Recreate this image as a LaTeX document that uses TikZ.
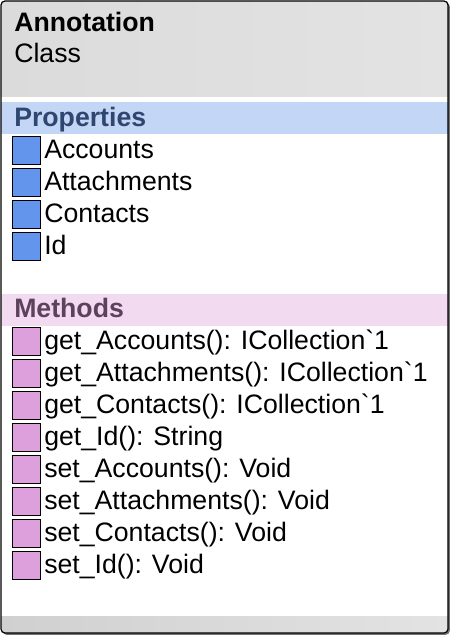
\documentclass[tikz,border=0pt]{standalone}
\usepackage{fontspec}
\setmainfont{Liberation Sans}
\usetikzlibrary{positioning}
\definecolor{headgray}{HTML}{DBDBDB}
\definecolor{headgrayb}{HTML}{E3E3E3}
\definecolor{propband}{HTML}{C4D6F6}
\definecolor{proptext}{HTML}{2F4670}
\definecolor{methband}{HTML}{F2DBF0}
\definecolor{methtext}{HTML}{5C425C}
\definecolor{propfill}{HTML}{6495ED}
\definecolor{methfill}{HTML}{DDA0DD}
\tikzstyle{propicon} = [rectangle, draw=black, line width=0.75pt, fill=propfill,
    minimum width=21.5pt, minimum height=21pt, inner sep=0pt]
\tikzstyle{methicon} = [rectangle, draw=black, line width=0.75pt, fill=methfill,
    minimum width=21.5pt, minimum height=21pt, inner sep=0pt]
\tikzstyle{member} = [anchor=west, inner sep=0pt, xshift=2pt,
    text height=14.3pt, text depth=2.3pt, font=\fontsize{20}{24}\selectfont]
\tikzstyle{title} = [anchor=base west, inner sep=0pt, font=\fontsize{20}{24}\selectfont\bfseries]
\tikzstyle{subtitle} = [anchor=base west, inner sep=0pt, font=\fontsize{20}{24}\selectfont]
\newcommand{\gen}{\textasciigrave 1}

\begin{document}
\begin{tikzpicture}[x=0.75pt, y=-0.75pt, node distance = 24pt]
    \useasboundingbox (0,0) rectangle (455,640);
    % Box, shadow and bands
    \fill[black!55, rounded corners=3pt] (2.5,2.5) rectangle (449.8,634.8);
    \begin{scope}
      \clip[rounded corners=3pt] (1,1) rectangle (448,633);
      \fill[white] (1,1) rectangle (448,633);
      \shade[left color=headgray, right color=headgrayb] (1,1) rectangle (448,96);
      \fill[propband] (1,102) rectangle (448,134);
      \fill[methband] (1,294) rectangle (448,326);
      \shade[left color=headgray!95!black, right color=headgrayb] (1,616) rectangle (448,633);
    \end{scope}
    \draw[rounded corners=3pt, line width=0.9pt] (1,1) rectangle (448,633);
    % Header
    \node [title] (name) at (14,31) {Annotation};
    \node [subtitle] (kind) at (14,62) {Class};
    \node [title, text=proptext] (props) at (14,126) {Properties};
    \node [title, text=methtext] (meths) at (14,317.5) {Methods};
    % Place properties
    \node [propicon] (p1) at (26.5,150) {};
    \node [propicon, below of=p1] (p2) {};
    \node [propicon, below of=p2] (p3) {};
    \node [propicon, below of=p3] (p4) {};
    \node [member] (pt1) at (p1.east) {Accounts};
    \node [member] (pt2) at (p2.east) {Attachments};
    \node [member] (pt3) at (p3.east) {Contacts};
    \node [member] (pt4) at (p4.east) {Id};
    % Place methods
    \node [methicon] (m1) at (26.5,341.5) {};
    \node [methicon, below of=m1] (m2) {};
    \node [methicon, below of=m2] (m3) {};
    \node [methicon, below of=m3] (m4) {};
    \node [methicon, below of=m4] (m5) {};
    \node [methicon, below of=m5] (m6) {};
    \node [methicon, below of=m6] (m7) {};
    \node [methicon, below of=m7] (m8) {};
    \node [member] (mt1) at (m1.east) {get\_Accounts(): ICollection\gen};
    \node [member] (mt2) at (m2.east) {get\_Attachments(): ICollection\gen};
    \node [member] (mt3) at (m3.east) {get\_Contacts(): ICollection\gen};
    \node [member] (mt4) at (m4.east) {get\_Id(): String};
    \node [member] (mt5) at (m5.east) {set\_Accounts(): Void};
    \node [member] (mt6) at (m6.east) {set\_Attachments(): Void};
    \node [member] (mt7) at (m7.east) {set\_Contacts(): Void};
    \node [member] (mt8) at (m8.east) {set\_Id(): Void};
\end{tikzpicture}
\end{document}
